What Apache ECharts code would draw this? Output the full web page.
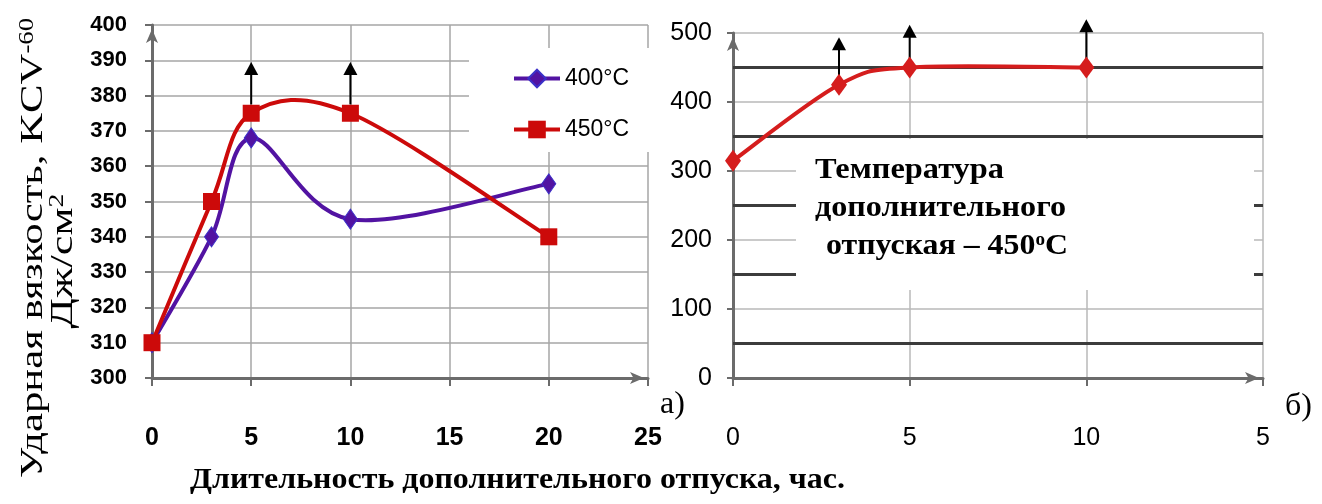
<!DOCTYPE html>
<html><head><meta charset="utf-8">
<script src="https://cdn.jsdelivr.net/npm/echarts@6/dist/echarts.min.js"></script>
<style>html,body{margin:0;padding:0;background:#fff}#c{width:1322px;height:504px}</style>
</head><body><div id="c"></div>
<script>
// ---------- data: left panel (а) ----------
const leftX = [0, 3, 5, 10, 20];
const leftY400 = [310, 340, 368, 345, 355];
const leftY450 = [310, 350, 375, 375, 340];
const seriesNames = ['400°C', '450°C'];
const leftArrowX = [5, 10];
const leftArrowFrom = [377.5, 377.5];
const leftArrowTo = [389.5, 389.5];
const leftYRange = [300, 400, 10];
const leftXRange = [0, 25, 5];

// ---------- data: right panel (б) ----------
const rightX = [0, 3, 5, 10];
const rightY = [315, 425, 450, 450];
const rightArrowX = [3, 5, 10];
const rightArrowFrom = [436, 461, 461];
const rightArrowTo = [494, 512, 520];
const rightXLabels = ['0', '5', '10', '5'];
const rightYRange = [0, 500, 100];
const rightXRange = [0, 15, 5];
const rightDarkLevels = [50, 150, 250, 350, 450];

// ---------- texts ----------
const yTitle1 = 'Ударная вязкость, KCV';
const yTitle1Sup = '-60';
const yTitle2 = 'Дж/см';
const yTitle2Sup = '2';
const xTitle = 'Длительность дополнительного отпуска, час.';
const noteLine1 = 'Температура';
const noteLine2 = 'дополнительного';
const noteLine3a = 'отпуская – 450';
const noteLine3Sup = 'o';
const noteLine3b = 'C';
const panelA = 'а)';
const panelB = 'б)';

const SANS = "'Liberation Sans', Arial, sans-serif";
const SERIF = "'Liberation Serif', 'DejaVu Serif', serif";

const mctx = document.createElement('canvas').getContext('2d');
function tw(text, font) { mctx.font = font; return mctx.measureText(text).width; }

const PURPLE = '#5213a2';
const RED = '#cc0a0a';
const RED2 = '#d51d1d';
const AXIS = '#6b6b6b';

function curveSeries(xs, ys, color, xi, yi) {
  return {
    type: 'custom', xAxisIndex: xi, yAxisIndex: yi, z: 4, silent: true,
    data: xs.map((x, i) => [x, ys[i]]),
    renderItem: function (params, api) {
      if (params.dataIndex !== 0) return null;
      const pts = xs.map((x, i) => api.coord([x, ys[i]]));
      let d = 'M' + pts[0][0] + ' ' + pts[0][1];
      for (let i = 0; i < pts.length - 1; i++) {
        const p0 = pts[Math.max(i - 1, 0)], p1 = pts[i], p2 = pts[i + 1], p3 = pts[Math.min(i + 2, pts.length - 1)];
        const c1 = [p1[0] + (p2[0] - p0[0]) / 6, p1[1] + (p2[1] - p0[1]) / 6];
        const c2 = [p2[0] - (p3[0] - p1[0]) / 6, p2[1] - (p3[1] - p1[1]) / 6];
        d += ' C' + c1[0] + ' ' + c1[1] + ' ' + c2[0] + ' ' + c2[1] + ' ' + p2[0] + ' ' + p2[1];
      }
      return { type: 'path', shape: { pathData: d }, style: { fill: 'none', stroke: color, lineWidth: 4, lineCap: 'round', lineJoin: 'round' } };
    }
  };
}

function arrowSeries(xs, from, to, xi, yi) {
  return {
    type: 'custom', xAxisIndex: xi, yAxisIndex: yi, z: 5, silent: true,
    data: xs.map((x, i) => [x, from[i], to[i]]),
    renderItem: function (params, api) {
      const a = api.coord([api.value(0), api.value(1)]);
      const b = api.coord([api.value(0), api.value(2)]);
      const h = 13, w = 7;
      return {
        type: 'group', children: [
          { type: 'line', shape: { x1: a[0], y1: a[1], x2: b[0], y2: b[1] + h - 1 }, style: { stroke: '#000', lineWidth: 2 } },
          { type: 'polygon', shape: { points: [[b[0], b[1]], [b[0] - w, b[1] + h], [b[0] + w, b[1] + h]] }, style: { fill: '#000' } }
        ]
      };
    }
  };
}

function darkLineSeries(levels, xmin, xmax, xi, yi) {
  return {
    type: 'custom', xAxisIndex: xi, yAxisIndex: yi, z: 1, silent: true,
    data: levels.map(v => [xmin, v]),
    renderItem: function (params, api) {
      const a = api.coord([xmin, api.value(1)]);
      const b = api.coord([xmax, api.value(1)]);
      return { type: 'line', shape: { x1: a[0], y1: a[1], x2: b[0], y2: b[1] }, style: { stroke: '#3c3c3c', lineWidth: 3 } };
    }
  };
}

function axisLineCfg() {
  return { show: true, lineStyle: { color: AXIS, width: 3 }, symbol: ['none', 'arrow'], symbolSize: [9, 14], symbolOffset: [0, -4] };
}

function richFit(main, sup, mainFont, supFont, target) {
  return target / (tw(main, mainFont) + tw(sup, supFont));
}
const yT1Main = 'normal 32px ' + SERIF, yT1Sup = 'normal 20px ' + SERIF;
const yT1Scale = richFit(yTitle1, yTitle1Sup, yT1Main, yT1Sup, 460);
const yT2Scale = richFit(yTitle2, yTitle2Sup, yT1Main, yT1Sup, 135);
const xTFont = 'bold 30px ' + SERIF;
const xTScale = 655 / tw(xTitle, xTFont);
const nFont = 'bold 30px ' + SERIF, nSup = 'bold 18px ' + SERIF;
const n1Scale = 189 / tw(noteLine1, nFont);
const n2Scale = 251 / tw(noteLine2, nFont);
const n3Scale = 242 / (tw(noteLine3a, nFont) + tw(noteLine3Sup, nSup) + tw(noteLine3b, nFont));

const chart = echarts.init(document.getElementById('c'));
chart.setOption({
  backgroundColor: '#fff',
  animation: false,
  grid: [
    { left: 152, top: 25, width: 496, height: 353 },
    { left: 733, top: 33, width: 530, height: 345 }
  ],
  xAxis: [
    {
      type: 'value', gridIndex: 0, min: leftXRange[0], max: leftXRange[1], interval: leftXRange[2],
      axisLine: axisLineCfg(),
      axisTick: { show: true, length: 8, lineStyle: { color: AXIS, width: 2 } },
      axisLabel: { margin: 48, fontSize: 25, fontWeight: 'bold', fontFamily: SANS, color: '#000' },
      splitLine: { show: true, lineStyle: { color: '#a6a6a6', width: 1.5 } }
    },
    {
      type: 'value', gridIndex: 1, min: rightXRange[0], max: rightXRange[1], interval: rightXRange[2],
      axisLine: axisLineCfg(),
      axisTick: { show: true, length: 8, lineStyle: { color: AXIS, width: 2 } },
      axisLabel: { margin: 48, fontSize: 25, fontFamily: SANS, color: '#000',
        formatter: v => rightXLabels[Math.round(v / rightXRange[2])] },
      splitLine: { show: true, lineStyle: { color: '#b8b8b8', width: 1.5 } }
    }
  ],
  yAxis: [
    {
      type: 'value', gridIndex: 0, min: leftYRange[0], max: leftYRange[1], interval: leftYRange[2],
      axisLine: axisLineCfg(),
      axisTick: { show: true, length: 7, lineStyle: { color: AXIS, width: 2 } },
      axisLabel: { margin: 25, fontSize: 22, fontWeight: 'bold', fontFamily: SANS, color: '#000' },
      splitLine: { show: true, lineStyle: { color: '#a6a6a6', width: 1.5 } }
    },
    {
      type: 'value', gridIndex: 1, min: rightYRange[0], max: rightYRange[1], interval: rightYRange[2],
      axisLine: axisLineCfg(),
      axisTick: { show: true, length: 6, lineStyle: { color: AXIS, width: 2 } },
      axisLabel: { margin: 21, fontSize: 25, fontFamily: SANS, color: '#000' },
      splitLine: { show: true, lineStyle: { color: '#b8b8b8', width: 1.5 } }
    }
  ],
  legend: {
    data: seriesNames, left: 507, top: 62, orient: 'vertical',
    itemWidth: 46, itemHeight: 22, itemGap: 28,
    textStyle: { fontSize: 23, fontFamily: SANS, color: '#000' },
    lineStyle: { opacity: 1, width: 4 }
  },
  series: [
    darkLineSeries(rightDarkLevels, rightXRange[0], rightXRange[1], 1, 1),
    curveSeries(leftX, leftY400, PURPLE, 0, 0),
    curveSeries(leftX, leftY450, RED, 0, 0),
    curveSeries(rightX, rightY, RED2, 1, 1),
    arrowSeries(leftArrowX, leftArrowFrom, leftArrowTo, 0, 0),
    arrowSeries(rightArrowX, rightArrowFrom, rightArrowTo, 1, 1),
    {
      type: 'line', name: seriesNames[0], xAxisIndex: 0, yAxisIndex: 0, z: 6,
      data: leftX.map((x, i) => [x, leftY400[i]]),
      symbol: 'diamond', symbolSize: [14, 20],
      itemStyle: { color: PURPLE, borderColor: '#3b30c8', borderWidth: 1 },
      lineStyle: { color: PURPLE, width: 4, opacity: 0 }
    },
    {
      type: 'line', name: seriesNames[1], xAxisIndex: 0, yAxisIndex: 0, z: 6,
      data: leftX.map((x, i) => [x, leftY450[i]]),
      symbol: 'rect', symbolSize: 17,
      itemStyle: { color: RED },
      lineStyle: { color: RED, width: 4, opacity: 0 }
    },
    {
      type: 'line', name: 'right', xAxisIndex: 1, yAxisIndex: 1, z: 6,
      data: rightX.map((x, i) => [x, rightY[i]]),
      symbol: 'diamond', symbolSize: [16, 22],
      itemStyle: { color: RED2 },
      lineStyle: { color: RED2, width: 4, opacity: 0 }
    }
  ],
  graphic: [
    { type: 'rect', z: 3, shape: { x: 469, y: 48, width: 184, height: 104 }, style: { fill: '#fff' } },
    { type: 'rect', z: 3, shape: { x: 796, y: 139, width: 458, height: 151 }, style: { fill: '#fff' } },
    {
      type: 'text', z: 10, x: 34, y: 248, rotation: Math.PI / 2, scaleX: yT1Scale,
      style: {
        text: '{m|' + yTitle1 + '}{s|' + yTitle1Sup + '}', align: 'center', verticalAlign: 'middle',
        rich: { m: { font: yT1Main, fill: '#000' }, s: { font: yT1Sup, fill: '#000', verticalAlign: 'top' } }
      }
    },
    {
      type: 'text', z: 10, x: 64, y: 261, rotation: Math.PI / 2, scaleX: yT2Scale,
      style: {
        text: '{m|' + yTitle2 + '}{s|' + yTitle2Sup + '}', align: 'center', verticalAlign: 'middle',
        rich: { m: { font: yT1Main, fill: '#000' }, s: { font: yT1Sup, fill: '#000', verticalAlign: 'top' } }
      }
    },
    {
      type: 'text', z: 10, x: 190, y: 480, scaleX: xTScale,
      style: { text: xTitle, font: xTFont, fill: '#000', align: 'left', verticalAlign: 'middle' }
    },
    {
      type: 'text', z: 10, x: 815, y: 170, scaleX: n1Scale,
      style: { text: noteLine1, font: nFont, fill: '#000', align: 'left', verticalAlign: 'middle' }
    },
    {
      type: 'text', z: 10, x: 815, y: 208, scaleX: n2Scale,
      style: { text: noteLine2, font: nFont, fill: '#000', align: 'left', verticalAlign: 'middle' }
    },
    {
      type: 'text', z: 10, x: 826, y: 246, scaleX: n3Scale,
      style: {
        text: '{m|' + noteLine3a + '}{s|' + noteLine3Sup + '}{m|' + noteLine3b + '}', align: 'left', verticalAlign: 'middle',
        rich: { m: { font: nFont, fill: '#000' }, s: { font: nSup, fill: '#000', verticalAlign: 'top' } }
      }
    },
    {
      type: 'text', z: 10, x: 660, y: 405,
      style: { text: panelA, font: 'normal 32px ' + SERIF, fill: '#000', align: 'left', verticalAlign: 'middle' }
    },
    {
      type: 'text', z: 10, x: 1285, y: 407,
      style: { text: panelB, font: 'normal 32px ' + SERIF, fill: '#000', align: 'left', verticalAlign: 'middle' }
    }
  ]
});
</script></body></html>
